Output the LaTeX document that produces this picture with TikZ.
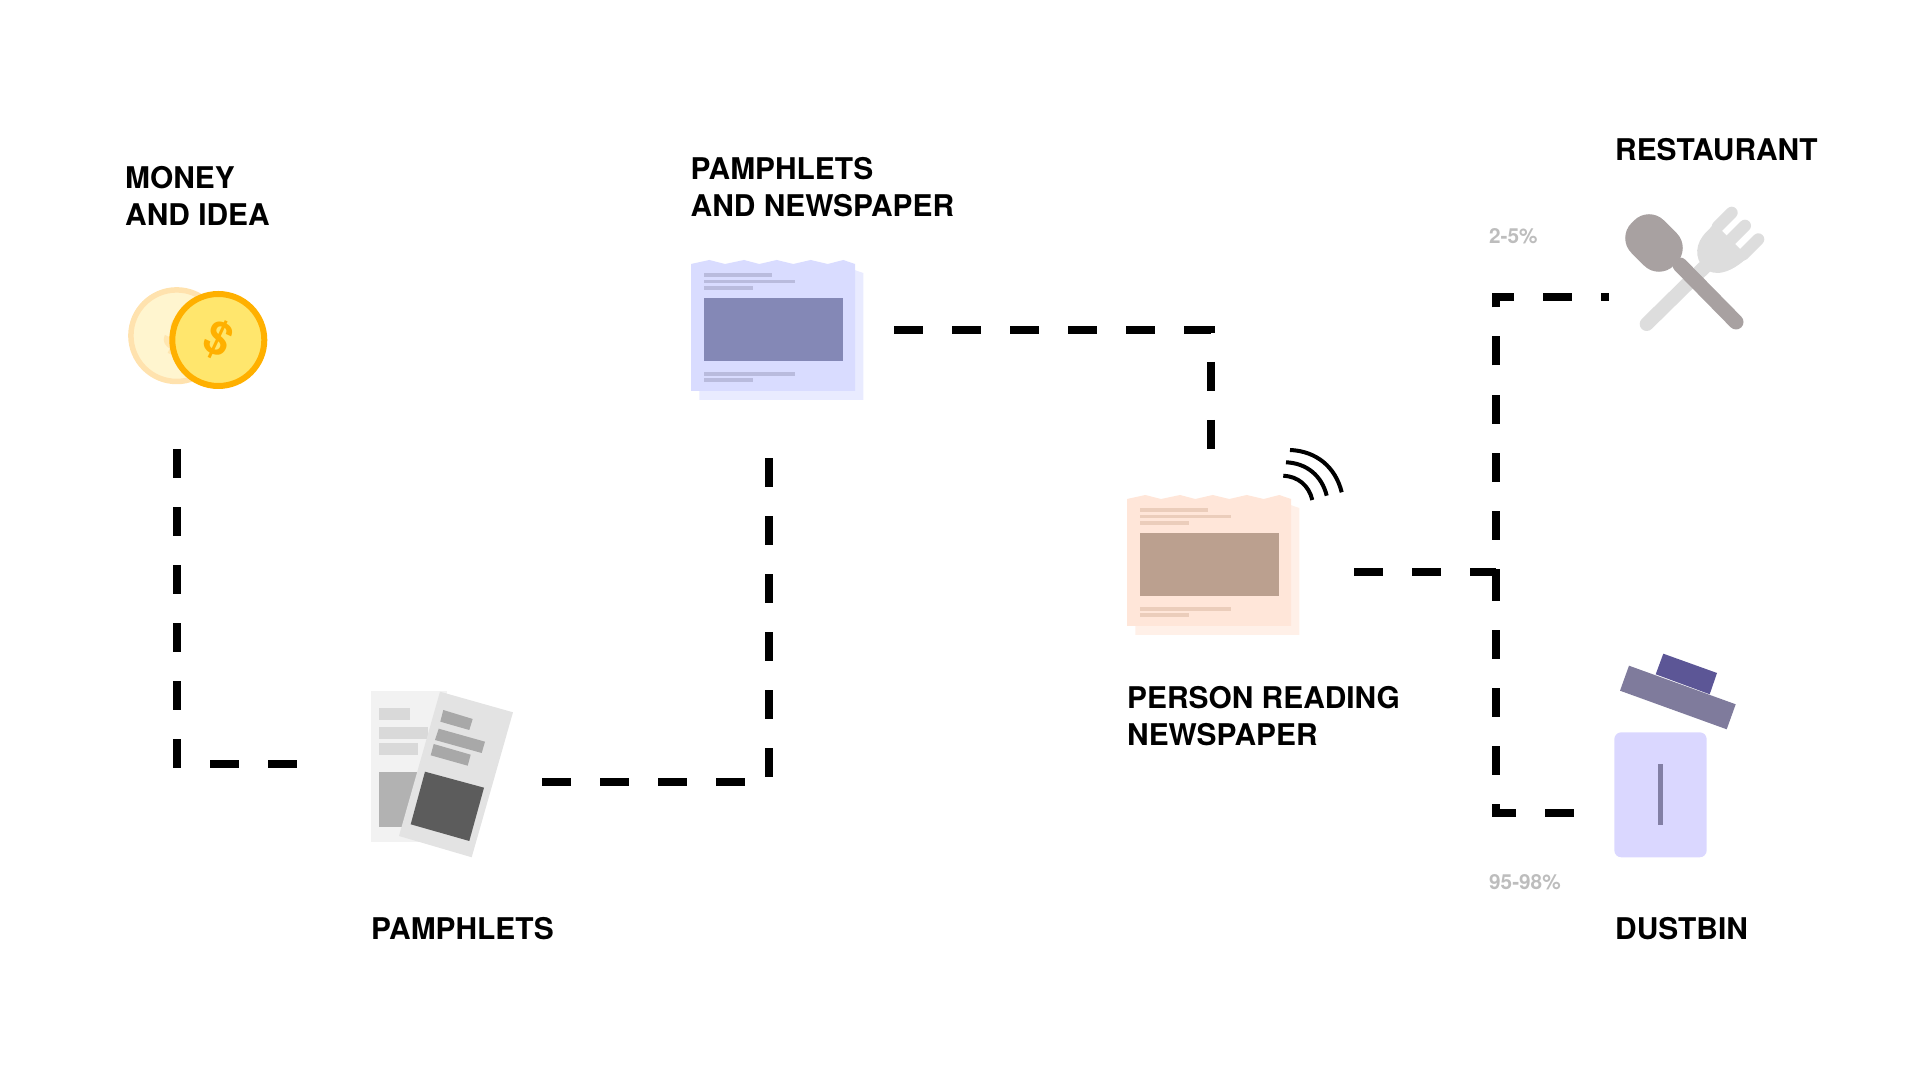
\documentclass[tikz,border=0pt]{standalone}
\usepackage{fontspec}
\setmainfont{TeX Gyre Heros}
\usetikzlibrary{calc, positioning}

\definecolor{coinEdge}{HTML}{FFB000}
\definecolor{coinFill}{HTML}{FFE66D}
\definecolor{oldEdge}{HTML}{FFE2AE}
\definecolor{oldFill}{HTML}{FFF5CF}
\definecolor{oldSign}{HTML}{FFE6B0}
\definecolor{blueFront}{HTML}{D9DCFF}
\definecolor{blueBack}{HTML}{E9EBFF}
\definecolor{bluePhoto}{HTML}{8488B6}
\definecolor{blueLine}{HTML}{B9BBDD}
\definecolor{peachFront}{HTML}{FFE6D9}
\definecolor{peachBack}{HTML}{FFF0E8}
\definecolor{peachPhoto}{HTML}{BBA08F}
\definecolor{peachLine}{HTML}{EBCDBB}
\definecolor{spoonGrey}{HTML}{A8A1A1}
\definecolor{forkGrey}{HTML}{DDDDDD}
\definecolor{binFill}{HTML}{DAD7FF}
\definecolor{binSlit}{HTML}{827FA5}
\definecolor{lidBar}{HTML}{7F7B9C}
\definecolor{lidGrip}{HTML}{5C5696}

\tikzset{
    flowline/.style={line width=0.08cm, dash pattern=on 0.29cm off 0.29cm},
    heading/.style={anchor=base west, inner sep=0pt, align=left, text=black,
        font=\fontsize{8.5pt}{10.5pt}\selectfont\bfseries},
    share/.style={anchor=base west, inner sep=0pt, text=black!26,
        font=\fontsize{5.9pt}{7pt}\selectfont\bfseries},
    sign/.style={rotate=-25, font=\fontsize{13pt}{14pt}\selectfont\bfseries},
    wave/.style={line width=0.04cm, bend left=37},
}

% torn sheet on a second sheet: shift, back, front, photo, text lines
\newcommand{\tornpaper}[5]{
    \begin{scope}[shift={(#1)}]
        \def\torn{(691,391) -- (691,264) -- (709.3,260) -- (725,264) -- (744,260)
            -- (759.3,264) -- (776.7,260) -- (793.3,264) -- (810.7,260) -- (827.7,264)
            -- (843.3,260) -- (855,264) -- (855,391) -- cycle}
        \fill[#2, shift={(8.3,9)}] \torn;
        \fill[#3] \torn;
        \fill[#4] (703.7,297.7) rectangle (842.7,361);
        \fill[#5] (703.7,273.3) rectangle (772.3,277.3);
        \fill[#5] (703.7,280) rectangle (795,283.3);
        \fill[#5] (703.7,286) rectangle (753,289.7);
        \fill[#5] (703.7,372) rectangle (795,375.7);
        \fill[#5] (703.7,378.3) rectangle (753,382);
    \end{scope}
}

\begin{document}
\begin{tikzpicture}[x=0.01cm, y=-0.01cm]
    \useasboundingbox (0,0) rectangle (1920,1080);

    % coins
    \draw[oldEdge, fill=oldFill, line width=0.055cm] (176.7,335.7) circle (45.8);
    \node[sign, text=oldSign] (oldSign) at (178,336) {\$};
    \draw[coinEdge, fill=coinFill, line width=0.06cm] (218.3,340) circle (46);
    \node[sign, text=coinEdge] (coinSign) at (217.7,340) {\$};

    % pamphlets
    \fill[black!5] (371,691) rectangle (447,841.7);
    \fill[black!15] (379,708) rectangle (410,720);
    \fill[black!15] (379,727) rectangle (428,739);
    \fill[black!15] (379,743) rectangle (418,755);
    \fill[black!30] (379,772) rectangle (425,827);
    \fill[black!11] (440,691.7) -- (513,712.3) -- (471.7,857.3) -- (399,836) -- cycle;
    \fill[black!34] (443.3,710) -- (472.7,719) -- (469.3,730) -- (440.3,721.7) -- cycle;
    \fill[black!34] (438.7,728.7) -- (485,741.7) -- (481.7,753) -- (435,740) -- cycle;
    \fill[black!34] (433.7,744) -- (470.7,754.7) -- (467.7,765.7) -- (430.7,755.3) -- cycle;
    \fill[black!64] (425,771.7) -- (484,787.7) -- (469.3,841) -- (410.7,824.3) -- cycle;

    % newspapers
    \tornpaper{0,0}{blueBack}{blueFront}{bluePhoto}{blueLine}
    \tornpaper{436,235}{peachBack}{peachFront}{peachPhoto}{peachLine}

    % signal arcs
    \coordinate (waveA) at (1283.3,475.7);
    \coordinate (waveB) at (1312.3,500);
    \coordinate (waveC) at (1286,462.3);
    \coordinate (waveD) at (1326.7,495.7);
    \coordinate (waveE) at (1290,450);
    \coordinate (waveF) at (1341.7,492.3);
    \draw[wave] (waveA) to (waveB);
    \draw[wave] (waveC) to (waveD);
    \draw[wave] (waveE) to (waveF);

    % fork, then spoon
    \begin{scope}[forkGrey]
        \draw[line width=0.14cm, line cap=round] (1646.7,324) -- (1706.7,265);
        \draw[line width=0.12cm, line cap=round] (1731.7,212.7) -- (1717.7,226.7);
        \draw[line width=0.12cm, line cap=round] (1745,225.7) -- (1728,242.7);
        \draw[line width=0.12cm, line cap=round] (1758.3,239.3) -- (1743,254.6);
        \fill (1706.7,231.7) .. controls (1695,243) and (1694,258) .. (1704,268)
            .. controls (1714,277) and (1730,274) .. (1748,257) -- (1722,231) -- (1716,222) -- cycle;
    \end{scope}
    \draw[spoonGrey, line width=0.15cm, line cap=round] (1680,265) -- (1736,322);
    \fill[spoonGrey, shift={(1654,243)}, rotate=-45, rounded corners=0.21cm]
        (-30,-23) rectangle (30,23);

    % dustbin
    \fill[binFill, rounded corners=0.07cm] (1614.3,732.3) rectangle (1706.7,857.3);
    \fill[binSlit] (1658,764) rectangle (1663,825.3);
    \fill[lidGrip] (1663.3,653.7) -- (1717,673) -- (1709.7,694.3) -- (1655.7,674.3) -- cycle;
    \fill[lidBar] (1629,665.7) -- (1735.7,704.3) -- (1726.7,729.3) -- (1620,690.7) -- cycle;

    % connector ends
    \coordinate (coinOut) at (177,449);
    \coordinate (pamphIn) at (297,764);
    \coordinate (pamphOut) at (542,782);
    \coordinate (paperIn) at (769,458);
    \coordinate (paperOut) at (894.3,330);
    \coordinate (readerIn) at (1210.7,449);
    \coordinate (readerOut) at (1354.3,572.3);
    \coordinate (split) at (1495.7,572.3);
    \coordinate (foodIn) at (1609,297);
    \coordinate (binIn) at (1574,812.7);

    \draw[flowline] (coinOut) |- (pamphIn);
    \draw[flowline] (pamphOut) -| (paperIn);
    \draw[flowline] (paperOut) -| (readerIn);
    \draw[flowline] (readerOut) -- (split) |- (foodIn);
    \draw[flowline] (split) |- (binIn);

    % labels
    \node[heading] (moneyLabel) at (124.5,225.7) {MONEY\\AND IDEA};
    \node[heading] (pamphLabel) at (370.5,940) {PAMPHLETS};
    \node[heading] (paperLabel) at (690,216.7) {PAMPHLETS\\AND NEWSPAPER};
    \node[heading] (readerLabel) at (1126.5,745.2) {PERSON READING\\NEWSPAPER};
    \node[heading] (foodLabel) at (1614.5,161) {RESTAURANT};
    \node[heading] (binLabel) at (1614.5,940) {DUSTBIN};
    \node[share] (foodShare) at (1488.5,244) {2-5\%};
    \node[share] (binShare) at (1488.5,890) {95-98\%};
\end{tikzpicture}
\end{document}
